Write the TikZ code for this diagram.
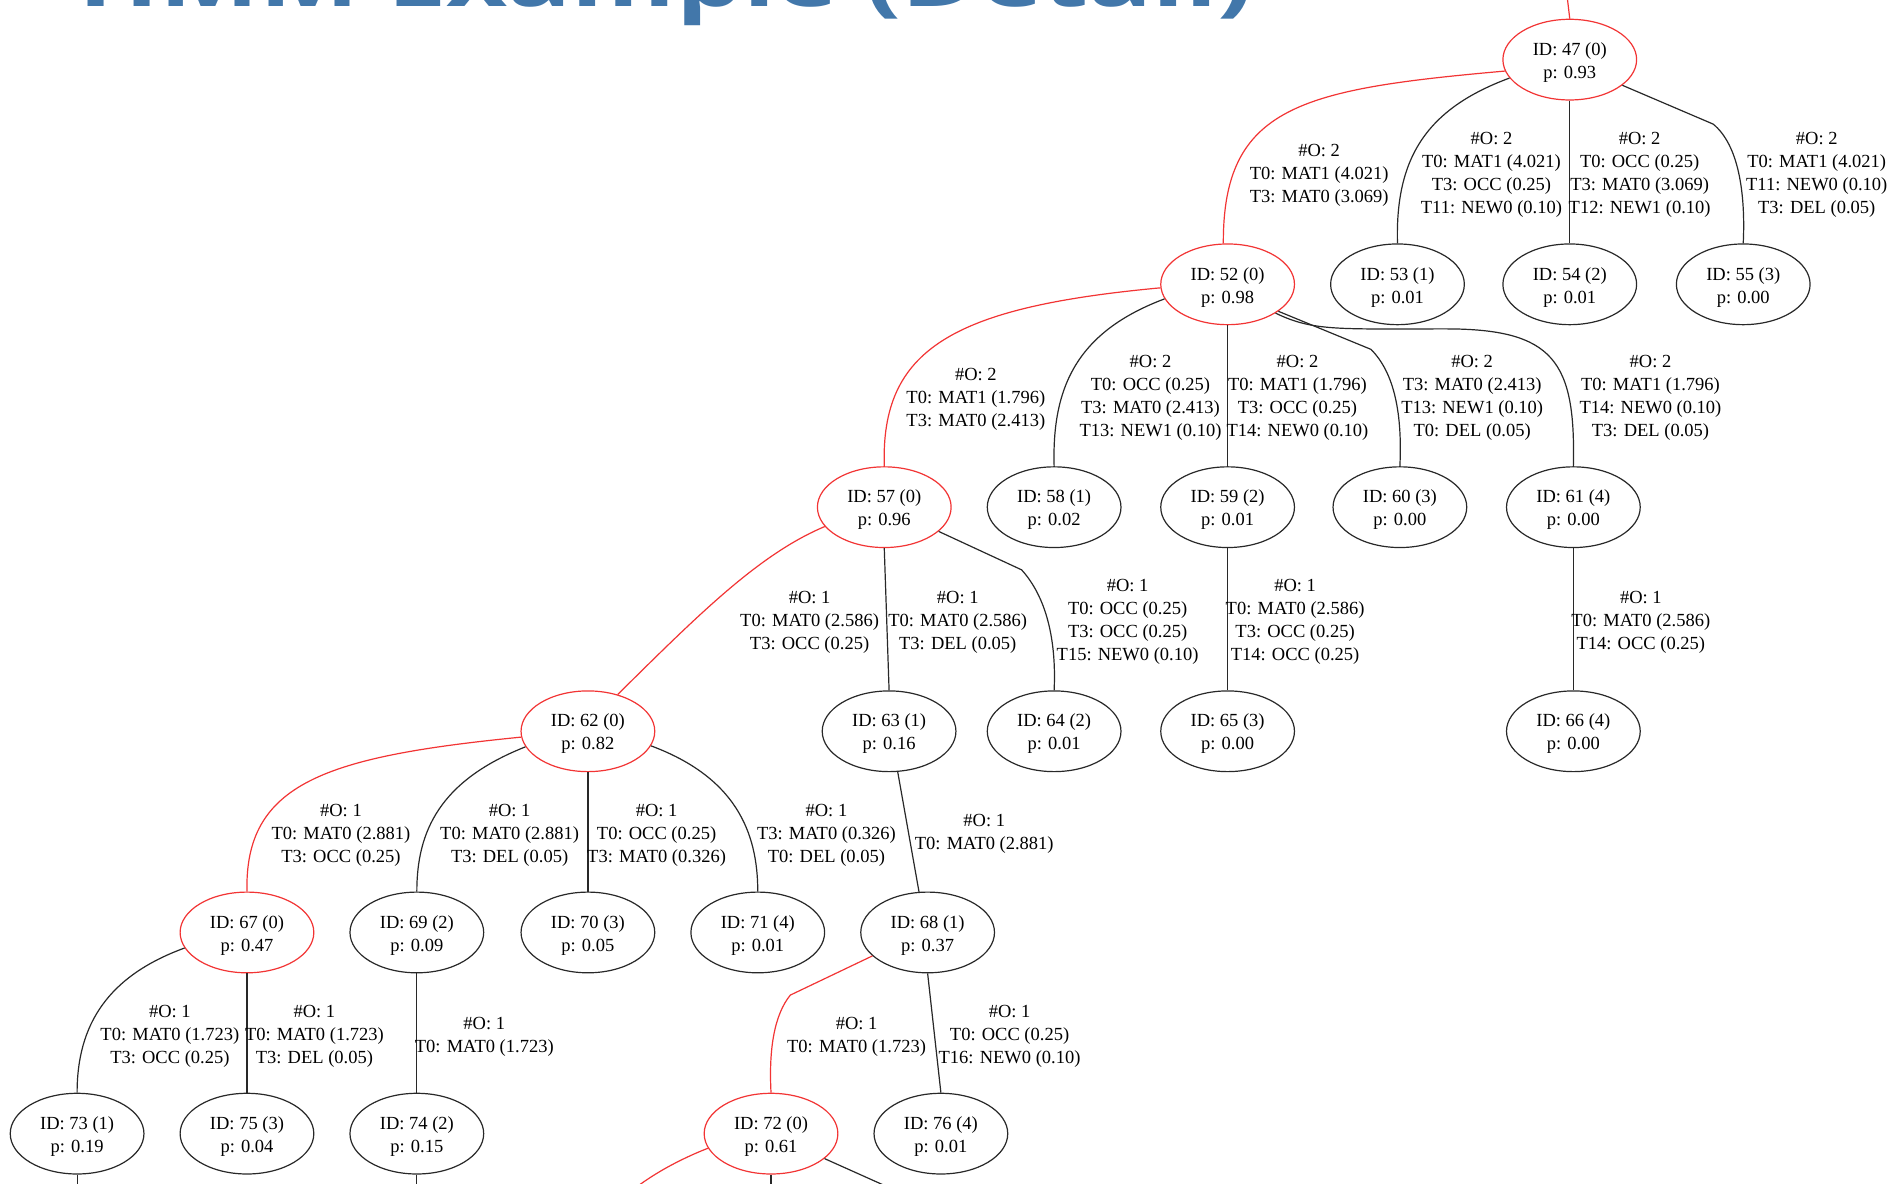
\documentclass[tikz,border=0pt]{standalone}
\usepackage{fontspec}
\usepackage{graphicx}
\setmainfont{Liberation Serif}
\newfontfamily\titlefont{Open Sans}
\usetikzlibrary{shapes.geometric}
\definecolor{hred}{RGB}{242,52,52}
\definecolor{hline}{RGB}{40,40,40}
\definecolor{titleblue}{RGB}{66,119,170}
\newcommand\ntext[2]{\raisebox{-2.6pt}[\height][\depth]{\begin{tabular}{@{}c@{}}ID: #1\\p: #2\end{tabular}}}
\begin{document}
\begin{tikzpicture}[x=1.2047pt,y=-1.2047pt,
  st/.style={ellipse, draw=hline, line width=1.2pt, minimum width=133.7pt, minimum height=80.7pt, inner sep=0pt, align=center, font=\fontsize{18.5pt}{23pt}\selectfont},
  hst/.style={st, draw=hred},
  lbl/.style={align=center, font=\fontsize{18.5pt}{23pt}\selectfont, inner sep=0pt},
  ed/.style={draw=hline, line width=1.2pt},
  hed/.style={draw=hred, line width=1.2pt}]
\useasboundingbox (0,0) rectangle (1568,982);
\clip (0,0) rectangle (1568,982);
\fill[white] (0,0) rectangle (1568,982);
% title
\node[anchor=base west, inner sep=0pt, text=titleblue, font=\titlefont\bfseries\fontsize{80pt}{80pt}\selectfont] (title) at (65,5.8) {\resizebox{1175pt}{\height}{HMM Example (Detail)}};
% nodes
\node[hst] (n47) at (1303,49.5) {\ntext{47 (0)}{0.93}};
\node[hst] (n52) at (1019,236) {\ntext{52 (0)}{0.98}};
\node[st] (n53) at (1160,236) {\ntext{53 (1)}{0.01}};
\node[st] (n54) at (1303,236) {\ntext{54 (2)}{0.01}};
\node[st] (n55) at (1447,236) {\ntext{55 (3)}{0.00}};
\node[hst] (n57) at (734,421) {\ntext{57 (0)}{0.96}};
\node[st] (n58) at (875,421) {\ntext{58 (1)}{0.02}};
\node[st] (n59) at (1019,421) {\ntext{59 (2)}{0.01}};
\node[st] (n60) at (1162,421) {\ntext{60 (3)}{0.00}};
\node[st] (n61) at (1306,421) {\ntext{61 (4)}{0.00}};
\node[hst] (n62) at (488,607) {\ntext{62 (0)}{0.82}};
\node[st] (n63) at (738,607) {\ntext{63 (1)}{0.16}};
\node[st] (n64) at (875,607) {\ntext{64 (2)}{0.01}};
\node[st] (n65) at (1019,607) {\ntext{65 (3)}{0.00}};
\node[st] (n66) at (1306,607) {\ntext{66 (4)}{0.00}};
\node[hst] (n67) at (205,774) {\ntext{67 (0)}{0.47}};
\node[st] (n69) at (346,774) {\ntext{69 (2)}{0.09}};
\node[st] (n70) at (488,774) {\ntext{70 (3)}{0.05}};
\node[st] (n71) at (629,774) {\ntext{71 (4)}{0.01}};
\node[st] (n68) at (770,774) {\ntext{68 (1)}{0.37}};
\node[st] (n73) at (64,941) {\ntext{73 (1)}{0.19}};
\node[st] (n75) at (205,941) {\ntext{75 (3)}{0.04}};
\node[st] (n74) at (346,941) {\ntext{74 (2)}{0.15}};
\node[hst] (n72) at (640,941) {\ntext{72 (0)}{0.61}};
\node[st] (n76) at (781,941) {\ntext{76 (4)}{0.01}};
% free ends
\coordinate (o47) at (1300,-10);
\coordinate (o72a) at (520,992);
\coordinate (o72b) at (640,992);
\coordinate (o72c) at (752,992);
\coordinate (o73) at (64,992);
\coordinate (o74) at (346,992);
% edges
\draw[hed] (n47.north) -- (o47);
\draw[hed] (n47.190) .. controls (1080,74) and (1015,88) .. (n52.96);
\draw[ed] (n47.197) .. controls (1185,90) and (1158,130) .. (n53.north);
\draw[ed] (n47.south) -- (n54.north);
\draw[ed] (n47.334) -- (1422,103) .. controls (1443,120) and (1449,160) .. (n55.north);
\draw[hed] (n52.183) .. controls (790,255) and (731,290) .. (n57.north);
\draw[ed] (n52.193) .. controls (895,275) and (873,320) .. (n58.north);
\draw[ed] (n52.south) -- (n59.north);
\draw[ed] (n52.332) -- (1138,290) .. controls (1158,310) and (1164,345) .. (n60.north);
\draw[ed] (n52.329) .. controls (1090,275) and (1110,273) .. (1200,273) .. controls (1290,273) and (1308,300) .. (n61.north);
\draw[hed] (n57.198) .. controls (630,460) and (580,510) .. (n62.51);
\draw[ed] (n57.south) -- (n63.north);
\draw[ed] (n57.336) -- (848,473) .. controls (868,495) and (877,530) .. (n64.north);
\draw[ed] (n59.south) -- (n65.north);
\draw[ed] (n61.south) -- (n66.north);
\draw[hed] (n62.185) .. controls (270,628) and (203,650) .. (n67.north);
\draw[ed] (n62.194) .. controls (365,648) and (346,690) .. (n69.north);
\draw[ed] (n62.south) -- (n70.north);
\draw[ed] (n62.347) .. controls (610,645) and (629,690) .. (n71.north);
\draw[ed] (n63.282) -- (n68.102);
\draw[ed] (n67.194) .. controls (90,810) and (64,850) .. (n73.north);
\draw[ed] (n67.south) -- (n75.north);
\draw[ed] (n69.south) -- (n74.north);
\draw[hed] (n68.203) -- (656,826) .. controls (643,842) and (638,870) .. (n72.north);
\draw[ed] (n68.south) -- (n76.north);
\draw[hed] (n72.193) .. controls (565,962) and (540,975) .. (o72a);
\draw[ed] (n72.south) -- (o72b);
\draw[ed] (n72.335) -- (o72c);
\draw[ed] (n73.south) -- (o73);
\draw[ed] (n74.south) -- (o74);
% labels
\node[lbl] (l47a) at (1095,145.5) {\#O: 2\\T0: MAT1 (4.021)\\T3: MAT0 (3.069)};
\node[lbl] (l47b) at (1238,145.5) {\#O: 2\\T0: MAT1 (4.021)\\T3: OCC (0.25)\\T11: NEW0 (0.10)};
\node[lbl] (l47c) at (1361,145.5) {\#O: 2\\T0: OCC (0.25)\\T3: MAT0 (3.069)\\T12: NEW1 (0.10)};
\node[lbl] (l47d) at (1508,145.5) {\#O: 2\\T0: MAT1 (4.021)\\T11: NEW0 (0.10)\\T3: DEL (0.05)};
\node[lbl] (l52a) at (810,331.5) {\#O: 2\\T0: MAT1 (1.796)\\T3: MAT0 (2.413)};
\node[lbl] (l52b) at (955,330.5) {\#O: 2\\T0: OCC (0.25)\\T3: MAT0 (2.413)\\T13: NEW1 (0.10)};
\node[lbl] (l52c) at (1077,330.5) {\#O: 2\\T0: MAT1 (1.796)\\T3: OCC (0.25)\\T14: NEW0 (0.10)};
\node[lbl] (l52d) at (1222,330.5) {\#O: 2\\T3: MAT0 (2.413)\\T13: NEW1 (0.10)\\T0: DEL (0.05)};
\node[lbl] (l52e) at (1370,330.5) {\#O: 2\\T0: MAT1 (1.796)\\T14: NEW0 (0.10)\\T3: DEL (0.05)};
\node[lbl] (l57a) at (672,516.5) {\#O: 1\\T0: MAT0 (2.586)\\T3: OCC (0.25)};
\node[lbl] (l57b) at (795,516.5) {\#O: 1\\T0: MAT0 (2.586)\\T3: DEL (0.05)};
\node[lbl] (l57c) at (936,516.5) {\#O: 1\\T0: OCC (0.25)\\T3: OCC (0.25)\\T15: NEW0 (0.10)};
\node[lbl] (l59) at (1075,516.5) {\#O: 1\\T0: MAT0 (2.586)\\T3: OCC (0.25)\\T14: OCC (0.25)};
\node[lbl] (l61) at (1362,516.5) {\#O: 1\\T0: MAT0 (2.586)\\T14: OCC (0.25)};
\node[lbl] (l62a) at (283,693.5) {\#O: 1\\T0: MAT0 (2.881)\\T3: OCC (0.25)};
\node[lbl] (l62b) at (423,693.5) {\#O: 1\\T0: MAT0 (2.881)\\T3: DEL (0.05)};
\node[lbl] (l62c) at (545,693.5) {\#O: 1\\T0: OCC (0.25)\\T3: MAT0 (0.326)};
\node[lbl] (l62d) at (686,693.5) {\#O: 1\\T3: MAT0 (0.326)\\T0: DEL (0.05)};
\node[lbl] (l63) at (817,692.5) {\#O: 1\\T0: MAT0 (2.881)};
\node[lbl] (l67a) at (141,860.5) {\#O: 1\\T0: MAT0 (1.723)\\T3: OCC (0.25)};
\node[lbl] (l67b) at (261,860.5) {\#O: 1\\T0: MAT0 (1.723)\\T3: DEL (0.05)};
\node[lbl] (l69) at (402,860.5) {\#O: 1\\T0: MAT0 (1.723)};
\node[lbl] (l68a) at (711,860.5) {\#O: 1\\T0: MAT0 (1.723)};
\node[lbl] (l68b) at (838,860.5) {\#O: 1\\T0: OCC (0.25)\\T16: NEW0 (0.10)};
\end{tikzpicture}
\end{document}
